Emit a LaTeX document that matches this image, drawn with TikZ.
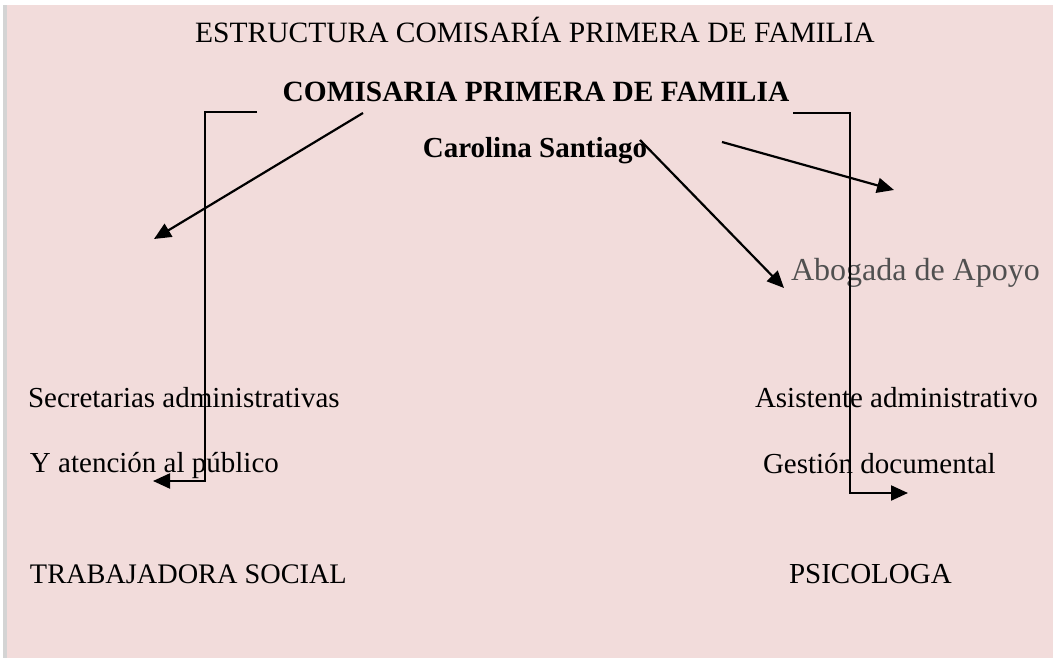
\documentclass[tikz,border=0pt]{standalone}
\usepackage{fontspec}
\setmainfont{Liberation Serif}
\usetikzlibrary{arrows.meta}
\definecolor{bgpink}{HTML}{F2DCDB}
\definecolor{edgegray}{HTML}{D4D4D4}
\definecolor{txtgray}{HTML}{505050}
\tikzset{
  txt/.style={inner sep=0pt, outer sep=0pt, anchor=base west, font=\fontsize{29}{35}\selectfont},
  boldtxt/.style={txt, font=\fontsize{29.4}{35}\selectfont\bfseries},
  arr/.style={line width=2.2pt, -{Triangle[length=17pt,width=15pt]}},
}
\begin{document}
\begin{tikzpicture}[x=1pt,y=-1pt]
\useasboundingbox (0,0) rectangle (1053,658);
\fill[white] (0,0) rectangle (1053,658);
\fill[edgegray] (3,5) rectangle (7,658);
\fill[bgpink] (7,5) rectangle (1053,658);

\node[txt, anchor=base, font=\fontsize{29.5}{35}\selectfont] (title) at (535,43) {ESTRUCTURA COMISARÍA PRIMERA DE FAMILIA};
\node[boldtxt, anchor=base] (comis) at (536,102) {COMISARIA PRIMERA DE FAMILIA};
\node[boldtxt, anchor=base, font=\fontsize{29}{35}\selectfont\bfseries] (carol) at (535,158) {Carolina Santiago};
\node[txt, text=txtgray, font=\fontsize{32}{37}\selectfont] (abog) at (791,280) {Abogada de Apoyo};
\node[txt] (secr) at (28,407) {Secretarias administrativas};
\node[txt] (aten) at (30,472) {Y atención al público};
\node[txt] (asis) at (755,407) {Asistente administrativo};
\node[txt] (gest) at (763,473) {Gestión documental};
\node[txt, font=\fontsize{28.3}{34}\selectfont] (trab) at (30,583) {TRABAJADORA SOCIAL};
\node[txt] (psic) at (789,583) {PSICOLOGA};

% connector end points
\coordinate (lb1) at (257,112);
\coordinate (lb2) at (205,112);
\coordinate (lb3) at (205,481);
\coordinate (lb4) at (153,481);
\coordinate (rb1) at (793,113);
\coordinate (rb2) at (850,113);
\coordinate (rb3) at (850,493);
\coordinate (rb4) at (908,493);
\coordinate (d1s) at (363,113);
\coordinate (d1e) at (154,239);
\coordinate (d2s) at (640,140);
\coordinate (d2e) at (784,288);
\coordinate (d3s) at (722,142);
\coordinate (d3e) at (894,190);

\draw[arr] (lb1) -- (lb2) -- (lb3) -- (lb4);
\draw[arr] (rb1) -- (rb2) -- (rb3) -- (rb4);
\draw[arr] (d1s) -- (d1e);
\draw[arr] (d2s) -- (d2e);
\draw[arr] (d3s) -- (d3e);
\end{tikzpicture}
\end{document}
